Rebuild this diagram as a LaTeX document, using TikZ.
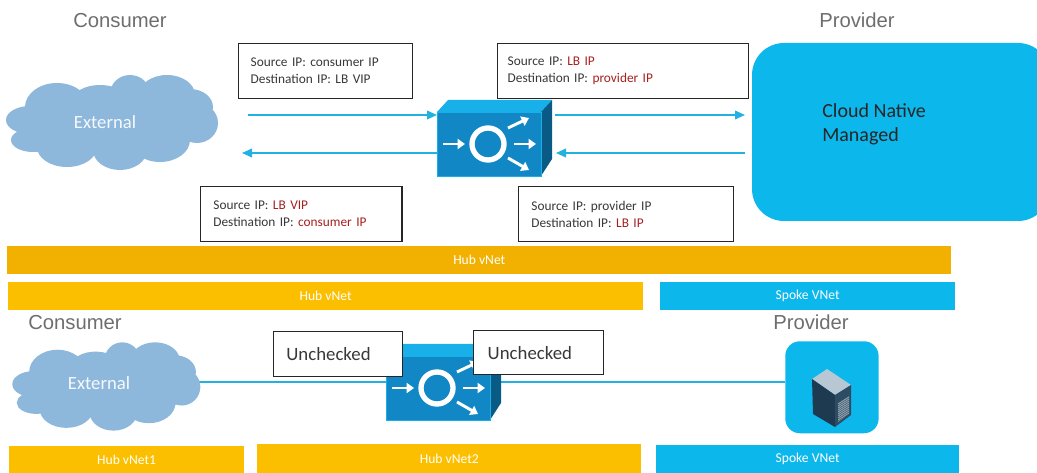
\documentclass[tikz,border=0pt]{standalone}
\usepackage{fontspec}
\setmainfont{Carlito}
\newfontfamily\arialish{Liberation Sans}
\usetikzlibrary{arrows.meta}
\definecolor{flowblue}{HTML}{22B2E2}
\definecolor{panelblue}{HTML}{0CB7EB}
\definecolor{cloudblue}{HTML}{8DB8DC}
\definecolor{hubdark}{HTML}{F2B100}
\definecolor{hubgold}{HTML}{FBBF00}
\definecolor{inkgrey}{HTML}{6E6E6E}
\definecolor{addrred}{HTML}{A52020}
\definecolor{lbfront}{HTML}{1187C6}
\definecolor{lbtop}{HTML}{18B0E8}
\definecolor{lbside}{HTML}{0A5A86}
\definecolor{srvtop}{HTML}{B7C8D4}
\definecolor{srvleft}{HTML}{1D3A50}
\definecolor{srvright}{HTML}{2C4C63}
\definecolor{srvvent}{HTML}{8FA0AC}
\tikzset{
  x=0.75pt, y=-0.75pt,
  heading/.style={font=\arialish\fontsize{15.2}{18}\selectfont, text=inkgrey, inner sep=0pt},
  addrbox/.style={draw=black!85, line width=1.1pt, fill=white, inner sep=0pt, text width=#1, align=left, font=\fontsize{10}{12.6}\selectfont, text=black!78},
  plainbox/.style={draw=black!85, line width=1.1pt, fill=white, inner sep=0pt, text width=#1, align=left, font=\fontsize{14.1}{16}\selectfont, text=black!78},
  bar/.style={fill=#1, inner sep=0pt, text=white, font=\fontsize{10.2}{12}\selectfont},
  flow/.style={draw=flowblue, line width=1.2pt, -{Triangle[length=7.5pt,width=6.5pt]}},
  wire/.style={draw=flowblue, line width=1pt},
  lbarrow/.style={draw=white, line width=2.2pt, -{Triangle[length=5.5pt,width=7.5pt]}},
  cloudtext/.style={text=white!92!cloudblue, inner sep=0pt, font=\fontsize{14}{16}\selectfont},
  lbicon/.pic={
    \fill[lbtop] (-52,-32) -- (-41,-44) -- (63,-44) -- (52,-32) -- cycle;
    \fill[lbside] (52,-32) -- (63,-44) -- (63,15) -- (52,32) -- cycle;
    \fill[lbfront, draw=lbtop, line width=.6pt] (-52,-32) rectangle (52,32);
    \draw[white, line width=4pt] (-1,0) circle[radius=16];
    \draw[lbarrow] (-46,0) -- (-24,0);
    \draw[lbarrow] (19,-16) -- (40,-26);
    \draw[lbarrow] (25,0) -- (47,0);
    \draw[lbarrow] (19,14) -- (40,26);
  },
  cloudicon/.pic={
    \fill[cloudblue]
      (-76,-2) ellipse[x radius=24, y radius=14]
      (-49,-15) ellipse[x radius=32, y radius=24]
      (-6,-22) ellipse[x radius=27, y radius=15]
      (24,-28) ellipse[x radius=20, y radius=19]
      (61,-27) ellipse[x radius=28, y radius=20]
      (84,-15) ellipse[x radius=23, y radius=18]
      (91,1) ellipse[x radius=21, y radius=20]
      (54,18) ellipse[x radius=30, y radius=22]
      (14,28) ellipse[x radius=27, y radius=20]
      (-39,25) ellipse[x radius=30, y radius=20]
      (-73,18) ellipse[x radius=22, y radius=12];
    \fill[cloudblue] (-64,-15) rectangle (85,20);
  },
}
\begin{document}
\begin{tikzpicture}
\useasboundingbox (0,0) rectangle (1037,473);

% ---------- upper half
\node[heading] (consA) at (120,21) {Consumer};
\node[heading] (provA) at (857,20) {Provider};
\fill[panelblue] (752,221) [rounded corners=24pt] -- (752,43) -- (1050,43) -- (1050,221) -- cycle;
\node[anchor=west, inner sep=0pt, align=left, text=black!85, font=\fontsize{15}{18}\selectfont] (panel) at (822,124.5) {Cloud Native\\Managed};

\pic at (106,122) {cloudicon};
\node[cloudtext] (cloudA) at (105,122) {External};
\pic at (489,144) {lbicon};
\node[inner sep=0pt, minimum width=78pt, minimum height=48pt] (lbA) at (489,144) {};
\coordinate (a1) at (248,115);
\coordinate (a2) at (555,115);
\coordinate (a3) at (745,115);
\coordinate (a4) at (242,153);
\coordinate (a5) at (745,153);
\coordinate (a6) at (556,153);
\coordinate (a7) at (437,153);
\coordinate (a8) at (437,115);
\draw[flow] (a1) -- (a8);
\draw[flow] (a2) -- (a3);
\draw[flow] (a7) -- (a4);
\draw[flow] (a5) -- (a6);

\node[addrbox=130.5pt, minimum height=41pt, anchor=north west] (b1) at (238,43) {\hspace{9pt}Source IP: consumer IP\\\hspace{9pt}Destination IP: LB VIP};
\node[addrbox=188pt, minimum height=41pt, anchor=north west] (b2) at (497,43) {\hspace{7.5pt}Source IP: \textcolor{addrred}{LB IP}\\\hspace{7.5pt}Destination IP: \textcolor{addrred}{provider IP}};
\node[addrbox=151pt, minimum height=41pt, anchor=north west] (b3) at (200,186) {\hspace{9.5pt}Source IP: \textcolor{addrred}{LB VIP}\\\hspace{9.5pt}Destination IP: \textcolor{addrred}{consumer IP}};
\node[addrbox=161pt, minimum height=41pt, anchor=north west] (b4) at (518,186) {\hspace{9.5pt}Source IP: provider IP\\\hspace{9.5pt}Destination IP: \textcolor{addrred}{LB IP}};

% ---------- bars
\node[bar=hubdark, minimum width=708pt, minimum height=21pt, anchor=north west] (hubA) at (7,246) {Hub vNet};
\node[bar=hubgold, minimum width=476pt, minimum height=21pt, anchor=north west] (hubB) at (8,282) {Hub vNet};
\node[bar=panelblue, minimum width=221pt, minimum height=21pt, anchor=north west] (spokeA) at (660,282) {Spoke VNet};

% ---------- lower half
\node[heading] (consB) at (75,323) {Consumer};
\node[heading] (provB) at (811,322) {Provider};

\node[fill=panelblue, rounded corners=11pt, inner sep=0pt, minimum width=70pt, minimum height=69pt, anchor=north west] (srv) at (785,341) {};
\coordinate (w1) at (195,382);
\coordinate (w2) at (785,382);
\draw[wire] (w1) -- (w2);
\pic[xscale=.887, yscale=.93] at (101,386) {cloudicon};
\node[cloudtext] (cloudB) at (99,383) {External};
\pic at (438,388) {lbicon};
\node[inner sep=0pt, minimum width=78pt, minimum height=48pt] (lbB) at (438,388) {};
\node[plainbox=96.5pt, minimum height=33.5pt, anchor=north west] (u1) at (273,331) {\hspace{9.5pt}Unchecked};
\node[plainbox=97.5pt, minimum height=33pt, anchor=north west] (u2) at (473,330) {\hspace{10.5pt}Unchecked};

% server icon
\fill[srvtop] (812,379) -- (827,369) -- (851,385) -- (835,395) -- cycle;
\fill[srvleft] (812,379) -- (835,395) -- (835,427) -- (813,414) -- cycle;
\fill[srvright] (835,395) -- (851,385) -- (851,415) -- (835,427) -- cycle;
\fill[srvvent] (838,403) -- (849,396) -- (849,414) -- (838,422) -- cycle;
\foreach \k in {0,2,...,18}{\draw[srvright, line width=.3pt] (838,403+\k) -- (849,396+\k);}

\node[bar=hubgold, minimum width=176pt, minimum height=20.5pt, anchor=north west] (h1) at (9,446) {Hub vNet1};
\node[bar=hubgold, minimum width=288pt, minimum height=22pt, anchor=north west] (h2) at (257,444) {Hub vNet2};
\node[bar=panelblue, minimum width=227pt, minimum height=21pt, anchor=north west] (h3) at (656,445) {Spoke VNet};
\end{tikzpicture}
\end{document}
